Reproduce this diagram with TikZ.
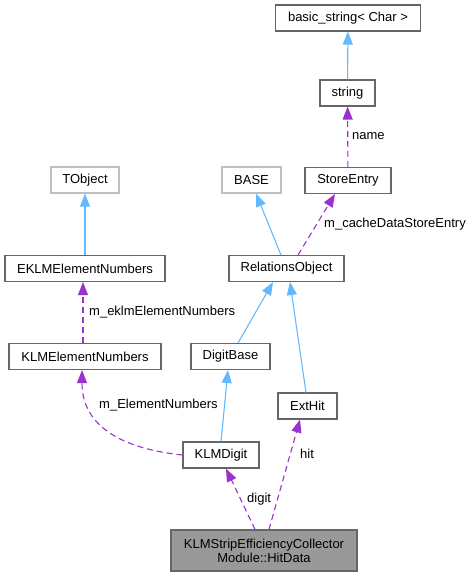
\documentclass[tikz,border=0pt]{standalone}
\usepackage{fontspec}
\setmainfont{Liberation Sans}
\usetikzlibrary{arrows.meta}
\definecolor{inhblue}{HTML}{63B8FF}
\definecolor{usepurple}{HTML}{9A32CD}
\definecolor{boxgray}{HTML}{666666}
\definecolor{extgray}{HTML}{BFBFBF}
\definecolor{curfill}{HTML}{999999}
\tikzset{
  classbox/.style={
    rectangle, draw=#1, fill=white, line width=1.1pt,
    minimum height=26pt, inner sep=2pt, text centered,
    font=\fontsize{13}{15}\selectfont
  },
  classbox/.default=boxgray,
  inharrow/.style={-{Triangle[length=13pt,width=10pt]}, line width=1.1pt, color=inhblue},
  usearrow/.style={-{Triangle[length=13pt,width=10pt]}, line width=1.1pt, color=usepurple,
    dash pattern=on 6pt off 4pt},
  edgelabel/.style={anchor=west, inner sep=0pt, font=\fontsize{13}{15}\selectfont},
}
\begin{document}
\begin{tikzpicture}[x=1pt, y=-1pt]
  \useasboundingbox (0,0) rectangle (473,576);

  \node[classbox, minimum width=145pt] (bstr)   at (348,18)    {basic\_string< Char >};
  \node[classbox, minimum width=55pt]  (str)    at (347.5,93)  {string};
  \node[classbox, minimum width=86pt]  (store)  at (348,180.5) {StoreEntry};
  \node[classbox=extgray, minimum width=68pt] (tobj) at (85,180) {TObject};
  \node[classbox=extgray, minimum width=59pt] (base) at (251.5,180) {BASE};
  \node[classbox, minimum width=160pt] (eklm)   at (85,268.5)  {EKLMElementNumbers};
  \node[classbox, minimum width=115pt] (rel)    at (286.5,268.5) {RelationsObject};
  \node[classbox, minimum width=152pt] (klmen)  at (85,356.5)  {KLMElementNumbers};
  \node[classbox, minimum width=79pt]  (dbase)  at (230.5,356.5) {DigitBase};
  \node[classbox, minimum width=59pt]  (exthit) at (307.5,406) {ExtHit};
  \node[classbox, minimum width=76pt]  (klmdig) at (221,455)   {KLMDigit};
  \node[classbox, fill=curfill, minimum width=186pt, minimum height=41pt,
        align=center, inner sep=1pt] (hit) at (264,550.5)
       {KLMStripEfficiencyCollector\\[-1pt]Module::HitData};

  % inheritance
  \draw[inharrow] (str) -- (bstr);
  \draw[inharrow] (eklm) -- (tobj);
  \draw[inharrow] ([xshift=-5.5pt]rel.north) -- ([xshift=4.5pt]base.south);
  \draw[inharrow] ([xshift=7.5pt]dbase.north) -- ([xshift=-13.5pt]rel.south);
  \draw[inharrow] ([xshift=-1.5pt]exthit.north) -- ([xshift=3.5pt]rel.south);
  \draw[inharrow] (klmdig.north) -- ([xshift=-2.5pt]dbase.south);

  % usage
  \draw[usearrow] (store) -- (str);
  \draw[usearrow] ([xshift=-2pt]klmen.north) -- ([xshift=-2pt]eklm.south);
  \draw[usearrow] ([xshift=11.5pt]rel.north) -- ([xshift=-13pt]store.south);
  \draw[usearrow] (klmdig.west) .. controls (125,449) and (82,428) .. ([xshift=-3pt]klmen.south);
  \draw[usearrow] ([xshift=-9pt]hit.north) -- ([xshift=5pt]klmdig.south);
  \draw[usearrow] ([xshift=5pt]hit.north) -- ([xshift=-7.5pt]exthit.south);

  \node[edgelabel] (lname)  at (352,136) {name};
  \node[edgelabel] (leklm)  at (89,312)  {m\_eklmElementNumbers};
  \node[edgelabel] (lcache) at (324,224) {m\_cacheDataStoreEntry};
  \node[edgelabel] (lelem)  at (99,405)  {m\_ElementNumbers};
  \node[edgelabel] (ldigit) at (247,499) {digit};
  \node[edgelabel] (lhit)   at (300,454) {hit};
\end{tikzpicture}
\end{document}
